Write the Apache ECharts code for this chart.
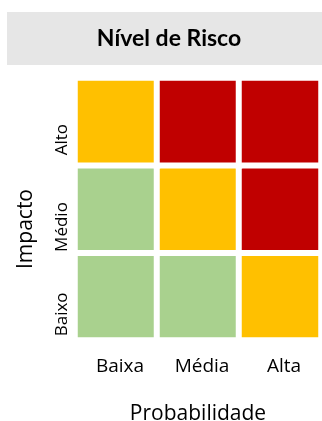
<!DOCTYPE html>
<html><head><meta charset="utf-8">
<script src="https://cdn.jsdelivr.net/npm/echarts@6/dist/echarts.min.js"></script>
<style>html,body{margin:0;padding:0;background:#fff}#c{width:322px;height:421px}</style>
</head><body><div id="c"></div>
<script>
const title = "Nível de Risco";
const probabilidade = ["Baixa", "Média", "Alta"];
const impacto = ["Baixo", "Médio", "Alto"];
// risk level per [probabilidade index, impacto index]: 1 = baixo, 2 = médio, 3 = alto
const nivelBaixo = [1, 1, 2];
const nivelMedio = [1, 2, 3];
const nivelAlto = [2, 3, 3];
const levelColors = ["#A9D18E", "#FFC000", "#C00000"];

const rows = [nivelBaixo, nivelMedio, nivelAlto];
const data = [];
rows.forEach((r, yi) => r.forEach((v, xi) => data.push([xi, yi, v])));

const chart = echarts.init(document.getElementById('c'));
chart.setOption({
  animation: false,
  graphic: [
    {type: 'rect', shape: {x: 7, y: 12, width: 315, height: 53}, style: {fill: '#E6E6E6'}, z: 0},
    {type: 'text', x: 169, y: 39, style: {text: title, font: 'bold 23px Lato', fill: '#000', align: 'center', verticalAlign: 'middle'}, z: 1}
  ],
  grid: {left: 75, right: 1, top: 78, bottom: 81, containLabel: false, outerBoundsMode: 'none'},
  xAxis: {
    type: 'category', data: probabilidade,
    axisLine: {show: false}, axisTick: {show: false}, splitLine: {show: false},
    axisLabel: {fontFamily: 'Open Sans', fontSize: 19, color: '#000', margin: 17, padding: [0, 0, 0, 8]},
    name: 'Probabilidade', nameLocation: 'middle', nameGap: 64,
    nameTextStyle: {fontFamily: 'Open Sans', fontSize: 21, color: '#000'}
  },
  yAxis: {
    type: 'category', data: impacto,
    axisLine: {show: false}, axisTick: {show: false}, splitLine: {show: false},
    axisLabel: {fontFamily: 'Open Sans', fontSize: 17, color: '#000', rotate: 90, margin: 4, padding: [0, 36, 0, 0]},
    name: 'Impacto', nameLocation: 'middle', nameGap: 38,
    nameTextStyle: {fontFamily: 'Open Sans', fontSize: 21, color: '#000', padding: [0, 40, 0, 0]}
  },
  visualMap: {
    show: false, type: 'piecewise', dimension: 2,
    pieces: [{value: 1, color: levelColors[0]}, {value: 2, color: levelColors[1]}, {value: 3, color: levelColors[2]}]
  },
  series: [{
    type: 'heatmap', data: data,
    itemStyle: {borderColor: '#fff', borderWidth: 6},
    label: {show: false}
  }]
});
</script></body></html>
